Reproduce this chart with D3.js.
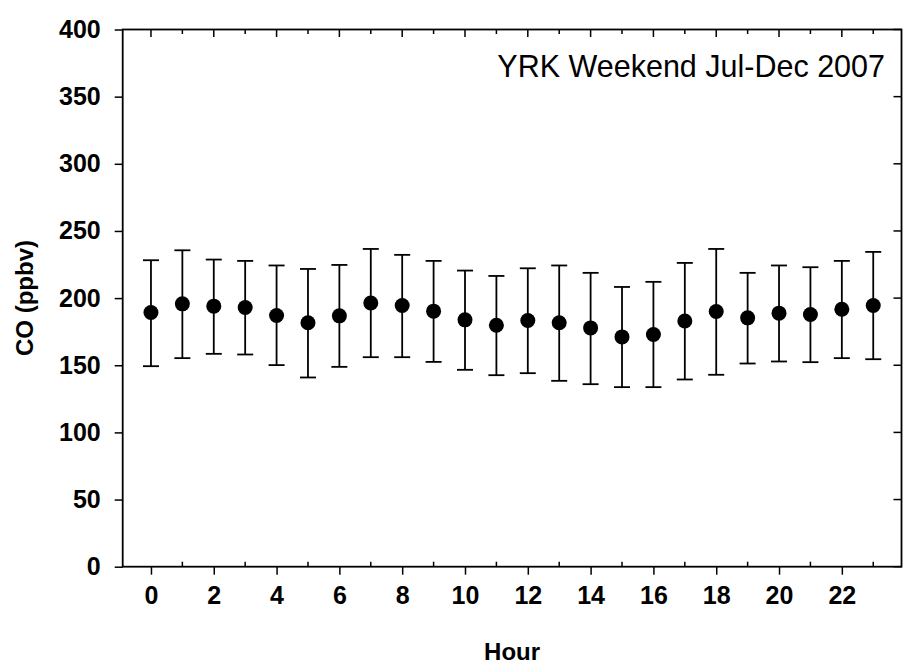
<!DOCTYPE html>
<html>
<head>
<meta charset="utf-8">
<script src="https://cdn.jsdelivr.net/npm/d3@7"></script>
<style>
  html, body { margin: 0; padding: 0; background: #fff; }
  svg { display: block; }
  text { font-family: "Liberation Sans", Arial, Helvetica, sans-serif; fill: #000; }
</style>
</head>
<body>
<svg id="chart" width="914" height="665"></svg>
<script>
// Hourly CO at YRK, weekends, Jul–Dec 2007: mean with upper/lower bounds (ppbv)
const hours = d3.range(0, 24);
const meanCO  = [189.3, 195.7, 194.0, 193.0, 187.0, 181.6, 186.8, 196.4, 194.5, 190.3, 183.8, 179.8,
                 183.3, 181.6, 177.8, 171.1, 172.9, 183.0, 190.0, 185.3, 188.8, 187.8, 191.7, 194.5];
const upperCO = [228.2, 235.6, 228.7, 227.7, 224.3, 221.7, 224.7, 236.6, 232.2, 227.7, 220.5, 216.5,
                 222.2, 224.3, 218.8, 208.3, 212.1, 226.2, 236.6, 218.8, 224.3, 223.0, 227.7, 234.4];
const lowerCO = [149.3, 155.3, 158.5, 158.0, 150.1, 140.9, 148.8, 156.0, 156.0, 152.5, 146.6, 142.6,
                 144.1, 138.4, 135.9, 133.7, 133.7, 139.4, 142.9, 151.3, 152.8, 152.3, 155.3, 154.5];
const xTickLabels = [0, 2, 4, 6, 8, 10, 12, 14, 16, 18, 20, 22];
const yTickLabels = [0, 50, 100, 150, 200, 250, 300, 350, 400];
const titleText = "YRK Weekend Jul-Dec 2007";

const svg = d3.select("#chart");
const plotLeft = 122.7, plotRight = 901.5, plotTop = 29.5, plotBottom = 566.7;

const x = d3.scaleLinear().domain([-0.9, 23.9]).range([plotLeft, plotRight]);
const y = d3.scaleLinear().domain([0, 400]).range([plotBottom, plotTop]);

const data = hours.map((h, i) => ({ h, m: meanCO[i], hi: upperCO[i], lo: lowerCO[i] }));

// Bottom axis: labelled even hours outward, odd hours as short inner ticks
const bottomAxis = d3.axisBottom(x).tickValues(xTickLabels).tickSize(8).tickSizeOuter(0).tickPadding(12)
  .tickFormat(d3.format("d"));
const gB = svg.append("g").attr("transform", `translate(0,${plotBottom})`).call(bottomAxis);
gB.select(".domain").remove();
gB.selectAll(".tick line").attr("stroke", "#000").attr("stroke-width", 1.5);
gB.selectAll(".tick text").style("font-size", "25px").style("font-weight", "bold");
svg.append("g").selectAll("line").data(hours.filter(h => h % 2 === 1)).join("line")
  .attr("x1", d => x(d)).attr("x2", d => x(d)).attr("y1", plotBottom).attr("y2", plotBottom - 5)
  .attr("stroke", "#000").attr("stroke-width", 1.5);

// Top axis: inner ticks at every hour
svg.append("g").selectAll("line").data(hours).join("line")
  .attr("x1", d => x(d)).attr("x2", d => x(d)).attr("y1", plotTop).attr("y2", d => plotTop + (d % 2 === 0 ? 7.5 : 4.5))
  .attr("stroke", "#000").attr("stroke-width", 1.5);

// Left axis
const leftAxis = d3.axisLeft(y).tickValues(yTickLabels).tickSize(8).tickSizeOuter(0).tickPadding(14)
  .tickFormat(d3.format("d"));
const gL = svg.append("g").attr("transform", `translate(${plotLeft},0)`).call(leftAxis);
gL.select(".domain").remove();
gL.selectAll(".tick line").attr("stroke", "#000").attr("stroke-width", 1.5);
gL.selectAll(".tick text").style("font-size", "25px").style("font-weight", "bold");

// Right axis: inner ticks
svg.append("g").selectAll("line").data(yTickLabels).join("line")
  .attr("x1", plotRight).attr("x2", plotRight - 8).attr("y1", d => y(d)).attr("y2", d => y(d))
  .attr("stroke", "#000").attr("stroke-width", 1.5);

// Frame
svg.append("rect").attr("x", plotLeft).attr("y", plotTop)
  .attr("width", plotRight - plotLeft).attr("height", plotBottom - plotTop)
  .attr("fill", "none").attr("stroke", "#000").attr("stroke-width", 1.8);

// Error bars with caps, then the mean markers
const g = svg.append("g");
g.selectAll(".whisker").data(data).join("line").attr("class", "whisker")
  .attr("x1", d => x(d.h)).attr("x2", d => x(d.h)).attr("y1", d => y(d.lo)).attr("y2", d => y(d.hi))
  .attr("stroke", "#000").attr("stroke-width", 1.8);
["hi", "lo"].forEach(k => {
  g.selectAll(".cap-" + k).data(data).join("line").attr("class", "cap-" + k)
    .attr("x1", d => x(d.h) - 8).attr("x2", d => x(d.h) + 8).attr("y1", d => y(d[k])).attr("y2", d => y(d[k]))
    .attr("stroke", "#000").attr("stroke-width", 1.8);
});
g.selectAll("circle").data(data).join("circle")
  .attr("cx", d => x(d.h)).attr("cy", d => y(d.m)).attr("r", 7.5).attr("fill", "#000");

// Title and axis titles
svg.append("text").attr("x", 885).attr("y", 77).attr("text-anchor", "end")
  .style("font-size", "30.5px").text(titleText);
svg.append("text").attr("x", (plotLeft + plotRight) / 2).attr("y", 660).attr("text-anchor", "middle")
  .style("font-size", "24px").style("font-weight", "bold").text("Hour");
svg.append("text").attr("transform", "translate(33,298) rotate(-90)").attr("text-anchor", "middle")
  .style("font-size", "24px").style("font-weight", "bold").text("CO (ppbv)");
</script>
</body>
</html>
